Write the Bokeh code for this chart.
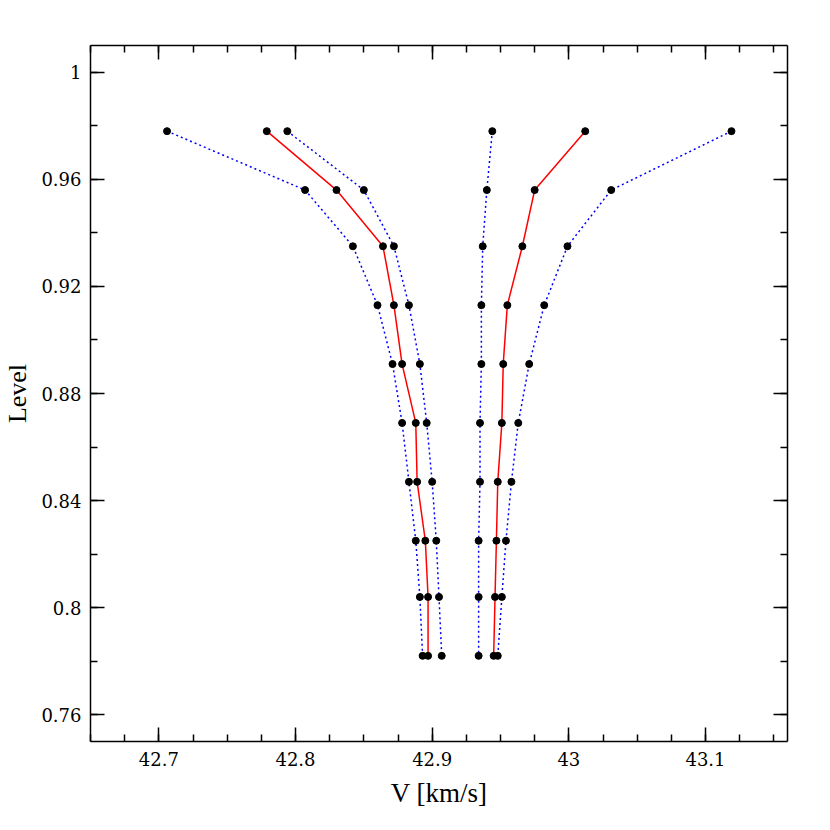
from bokeh.plotting import figure
from bokeh.models import LinearAxis, SingleIntervalTicker, CustomJSTickFormatter
from bokeh.embed import file_html
from bokeh.resources import INLINE

# Levels (top to bottom)
levels = [0.978, 0.956, 0.935, 0.913, 0.891, 0.869, 0.847, 0.825, 0.804, 0.782]

# Left group
left_outer = [42.706, 42.807, 42.842, 42.860, 42.871, 42.878, 42.883, 42.888, 42.891, 42.893]
left_mid = [42.779, 42.830, 42.864, 42.872, 42.878, 42.888, 42.889, 42.895, 42.897, 42.897]
left_inner = [42.794, 42.850, 42.872, 42.883, 42.891, 42.896, 42.900, 42.903, 42.905, 42.907]

# Right group
right_inner = [42.944, 42.940, 42.937, 42.936, 42.936, 42.935, 42.935, 42.934, 42.934, 42.934]
right_mid = [43.012, 42.975, 42.966, 42.955, 42.952, 42.951, 42.948, 42.947, 42.946, 42.945]
right_outer = [43.119, 43.031, 42.999, 42.982, 42.971, 42.963, 42.958, 42.954, 42.951, 42.948]

x_label = "V [km/s]"
y_label = "Level"

x_range = (42.65, 43.16)
y_range = (0.75, 1.01)

p = figure(width=828, height=828, x_range=x_range, y_range=y_range,
           output_backend="svg", toolbar_location=None,
           min_border_left=90, min_border_right=41, min_border_top=45, min_border_bottom=87)
p.outline_line_color = None
p.xgrid.visible = False
p.ygrid.visible = False
p.background_fill_color = "white"

fmt = CustomJSTickFormatter(code="return parseFloat(tick.toFixed(4)).toString();")
blank = CustomJSTickFormatter(code="return '';")

def style_axis(ax, ticker, formatter):
    ax.ticker = ticker
    ax.formatter = formatter
    ax.axis_line_width = 1.5
    ax.axis_line_color = "black"
    ax.major_tick_in = 14
    ax.major_tick_out = 0
    ax.minor_tick_in = 7
    ax.minor_tick_out = 0
    ax.major_tick_line_width = 1.5
    ax.minor_tick_line_width = 1.5
    ax.major_tick_line_color = "black"
    ax.minor_tick_line_color = "black"
    ax.major_label_text_font = "DejaVu Serif"
    ax.major_label_text_font_size = "18px"
    ax.major_label_text_color = "black"
    ax.axis_label_text_font = "Liberation Serif"
    ax.axis_label_text_font_size = "27px"
    ax.axis_label_text_font_style = "normal"
    ax.axis_label_text_color = "black"

xt = lambda: SingleIntervalTicker(interval=0.1, num_minor_ticks=4)
yt = lambda: SingleIntervalTicker(interval=0.04, num_minor_ticks=2)

style_axis(p.xaxis[0], xt(), fmt)
style_axis(p.yaxis[0], yt(), fmt)
p.xaxis[0].axis_label = x_label
p.yaxis[0].axis_label = y_label
p.yaxis[0].axis_label_text_font_size = "26px"
p.xaxis[0].major_label_standoff = 10
p.yaxis[0].major_label_standoff = 9
p.xaxis[0].axis_label_standoff = 9
p.yaxis[0].axis_label_standoff = 6

top = LinearAxis()
style_axis(top, xt(), blank)
right = LinearAxis()
style_axis(right, yt(), blank)
p.add_layout(top, "above")
p.add_layout(right, "right")

blue_series = [left_outer, left_inner, right_inner, right_outer]
red_series = [left_mid, right_mid]

for s in blue_series:
    p.line(s, levels, line_color="#0000ff", line_width=1.5, line_dash="2 3")
for s in red_series:
    p.line(s, levels, line_color="#ff0000", line_width=1.5)
for s in blue_series + red_series:
    p.scatter(s, levels, marker="circle", size=7, fill_color="black", line_color="black")

open("out.html", "w").write(file_html(p, INLINE))
